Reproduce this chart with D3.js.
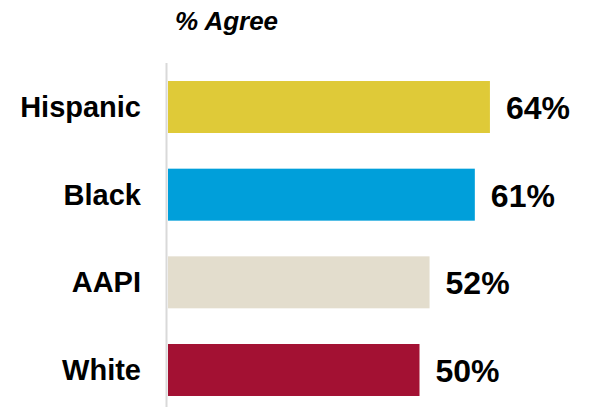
<!DOCTYPE html>
<html>
<head>
<meta charset="utf-8">
<script src="https://cdn.jsdelivr.net/npm/d3@7"></script>
<style>
html,body{margin:0;padding:0;background:#fff;}
svg{display:block;font-family:"Liberation Sans",Arial,sans-serif;}
</style>
</head>
<body>
<svg id="chart" width="589" height="407"></svg>
<script>
const categories = ["Hispanic", "Black", "AAPI", "White"];
const values = [64, 61, 52, 50];
const colors = ["#DFCA38", "#009FDA", "#E3DDCD", "#A31133"];
const title = "% Agree";

const svg = d3.select("#chart");
const x = d3.scaleLinear().domain([0, 100]).range([168, 671]);
const y = d3.scaleBand().domain(categories).range([63.17, 413.83]).paddingInner(0.407).paddingOuter(0.2035);

svg.append("text")
  .attr("x", 175).attr("y", 30)
  .attr("font-size", 26).attr("font-weight", "bold").attr("font-style", "italic")
  .attr("fill", "#000").text(title);

svg.append("line")
  .attr("x1", 166.5).attr("x2", 166.5).attr("y1", 63).attr("y2", 407)
  .attr("stroke", "#d9d9d9").attr("stroke-width", 2);

const data = categories.map((c, i) => ({c, v: values[i], col: colors[i]}));

svg.selectAll("rect.bar").data(data).join("rect")
  .attr("class", "bar")
  .attr("x", x(0)).attr("y", d => y(d.c))
  .attr("width", d => x(d.v) - x(0)).attr("height", y.bandwidth())
  .attr("fill", d => d.col);

svg.selectAll("text.cat").data(data).join("text")
  .attr("class", "cat")
  .attr("x", 141).attr("y", d => y(d.c) + y.bandwidth() / 2)
  .attr("dy", "0.35em").attr("text-anchor", "end")
  .attr("font-size", 29).attr("font-weight", "bold").attr("fill", "#000")
  .text(d => d.c);

svg.selectAll("text.val").data(data).join("text")
  .attr("class", "val")
  .attr("x", d => x(d.v) + 16).attr("y", d => y(d.c) + y.bandwidth() / 2)
  .attr("dy", "0.38em")
  .attr("font-size", 32).attr("font-weight", "bold").attr("fill", "#000")
  .text(d => d.v + "%");
</script>
</body>
</html>
